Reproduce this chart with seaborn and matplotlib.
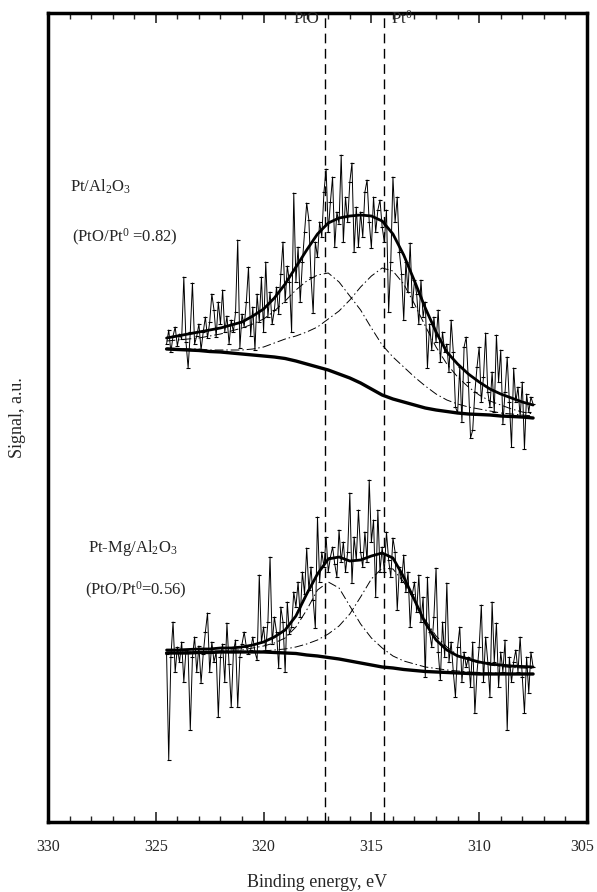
import numpy as np
import pandas as pd
import matplotlib
matplotlib.use("Agg")
import matplotlib.pyplot as plt
import matplotlib.transforms as mtransforms
import seaborn as sns
from matplotlib.ticker import MultipleLocator

sns.set_theme(style="white")
plt.rcParams["font.family"] = ["Liberation Serif", "DejaVu Serif"]
plt.rcParams["mathtext.fontset"] = "custom"
plt.rcParams["mathtext.rm"] = "Liberation Serif"
plt.rcParams["mathtext.it"] = "Liberation Serif:italic"

# Measured Pt 4d spectra, 0.1 eV steps from 324.5 eV down to 307.5 eV
raw_pt_al2o3 = [
    478, 492, 470, 486, 495, 476, 488, 483, 545, 480,
    454, 490, 539, 478, 486, 498, 472, 490, 505, 484,
    500, 528, 512, 485, 520, 498, 532, 490, 506, 478,
    502, 490, 510, 582, 474, 508, 495, 520, 555, 486,
    515, 472, 528, 500, 545, 490, 560, 505, 530, 498,
    512, 535, 508, 548, 580, 520, 556, 540, 490, 629,
    540, 575, 520, 560, 590, 619, 602, 545, 509, 580,
    565, 600, 585, 630, 653, 590, 620, 645, 575, 610,
    598, 667, 580, 625, 600, 640, 659, 570, 615, 575,
    610, 585, 630, 642, 600, 574, 625, 590, 612, 622,
    595, 580, 612, 510, 560, 645, 600, 625, 570, 548,
    502, 560, 530, 579, 515, 542, 528, 498, 542, 505,
    520, 454, 498, 472, 505, 480, 512, 460, 490, 470,
    478, 450, 502, 470, 415, 409, 455, 400, 475, 485,
    440, 384, 392, 430, 455, 475, 420, 445, 489, 430,
    415, 450, 410, 487, 440, 472, 398, 430, 465, 420,
    375, 454, 420, 435, 405, 440, 373, 428, 410, 425,
    418,
]
raw_ptmg_al2o3 = [
    168, 62, 165, 200, 150, 175, 160, 180, 140, 172,
    170, 92, 165, 185, 150, 176, 139, 168, 190, 209,
    150, 180, 160, 170, 105, 165, 178, 140, 199, 158,
    115, 170, 182, 115, 165, 178, 190, 175, 168, 172,
    185, 170, 162, 247, 180, 195, 172, 200, 265, 178,
    205, 190, 154, 215, 200, 150, 220, 188, 195, 230,
    215, 240, 205, 250, 228, 274, 232, 255, 222, 194,
    305, 240, 270, 255, 285, 250, 265, 275, 258, 245,
    292, 260, 280, 250, 270, 329, 239, 285, 262, 312,
    270, 255, 290, 260, 342, 280, 302, 225, 312, 250,
    275, 250, 290, 262, 245, 284, 270, 212, 255, 240,
    267, 230, 250, 195, 228, 240, 210, 247, 200, 225,
    145, 245, 190, 175, 205, 254, 170, 142, 200, 165,
    239, 160, 180, 150, 125, 175, 195, 140, 170, 155,
    165, 135, 180, 109, 150, 175, 217, 140, 185, 160,
    125, 220, 160, 199, 135, 170, 150, 182, 92, 165,
    140, 160, 172, 150, 185, 145, 109, 165, 129, 170,
    155,
]

# Fitted curves, 0.5 eV steps from 324.5 eV down to 307.5 eV
pt_envelope = [484, 486, 488, 490, 492, 494, 497, 500, 506, 513, 524, 538, 555, 572,
               588, 599, 604, 606, 607, 606, 601, 588, 567, 541, 514, 490, 470, 458,
               448, 440, 433, 428, 424, 420, 417]
pt_pto = [481, 482, 483, 484, 486, 488, 491, 494, 498, 503, 511, 521, 532, 541,
          547, 549, 540, 526, 512, 494, 477, 465, 455, 445, 436, 428, 422, 418,
          415, 413, 411, 409, 408, 407, 406]
pt_pt0 = [474, 473.5, 473, 473, 472, 472, 472, 472, 473, 475, 479, 483, 486, 490,
          495, 503, 511, 522, 535, 546, 554, 551, 538, 518, 496, 475, 458, 445,
          435, 427, 421, 417, 413, 410, 408]
pt_background = [473, 472.5, 472, 471.5, 470.5, 470, 469, 468, 467, 466, 465, 463.5,
                 461, 458, 455, 452, 448, 444, 439, 433, 427, 423, 420, 417, 414, 412,
                 410.5, 409, 408, 407.5, 407, 406, 405.5, 405, 404]

ptmg_envelope = [172, 172, 172.5, 173, 173, 174, 174, 175, 177, 180, 185, 192, 206,
                 228, 248, 263, 265, 261, 262, 266, 269, 264, 245, 222, 199, 182, 172,
                 166, 163, 160, 158, 157, 156, 155.5, 155]
ptmg_pto = [170, 170, 170, 170.5, 171, 171, 172, 172, 174, 176, 179, 184, 195, 212,
            232, 240, 234, 216, 198, 184, 174, 166, 161, 158, 155, 153.5, 152, 151,
            150, 149.5, 149, 149, 148.5, 148.5, 148.5]
ptmg_pt0 = [169.5, 169.5, 169.5, 169.5, 170, 170, 170, 170, 170.5, 171, 172, 173,
            175, 178, 182, 188, 196, 208, 225, 243, 254, 253, 240, 221, 202, 186,
            175, 167, 162, 159, 157, 155.5, 154.5, 154, 153.5]
ptmg_background = [169, 169, 169, 169.5, 169.5, 170, 170, 170, 170, 170, 169.5, 169,
                   168.5, 167, 166, 164.5, 163, 161, 159, 157, 155, 154, 152.5, 151.5,
                   150.5, 150, 149.5, 149, 148.5, 148, 148, 148, 148, 148, 148]

energy_ticks = [330, 325, 320, 315, 310, 305]
peak_positions = [317.15, 314.4]
peak_names = ["PtO", "Pt$^0$"]
sample_names = ["Pt/Al$_2$O$_3$", "Pt-Mg/Al$_2$O$_3$"]
ratio_texts = ["(PtO/Pt$^0$ =0.82)", "(PtO/Pt$^0$=0.56)"]

be_raw = np.linspace(324.5, 307.5, len(raw_pt_al2o3))
be_fit = np.linspace(324.5, 307.5, len(pt_envelope))

fig = plt.figure(figsize=(5.97, 8.92), dpi=100)
ax = fig.add_axes([0.0804, 0.0785, 0.9028, 0.9069])

dashdot = (0, (9, 3, 1.5, 3))

def draw_spectrum(raw, pto, pt0, env, bg):
    sns.lineplot(x=be_raw, y=raw, ax=ax, sort=False, estimator=None, color="black",
                 linewidth=0.7, marker="_", markersize=3.5, markeredgewidth=0.8,
                 markeredgecolor="black")
    for comp in (pto, pt0):
        sns.lineplot(x=be_fit, y=comp, ax=ax, sort=False, estimator=None,
                     color="black", linewidth=0.7, linestyle=dashdot)
    sns.lineplot(x=be_fit, y=env, ax=ax, sort=False, estimator=None,
                 color="black", linewidth=2.0)
    sns.lineplot(x=be_fit, y=bg, ax=ax, sort=False, estimator=None,
                 color="black", linewidth=2.4)

draw_spectrum(raw_pt_al2o3, pt_pto, pt_pt0, pt_envelope, pt_background)
draw_spectrum(raw_ptmg_al2o3, ptmg_pto, ptmg_pt0, ptmg_envelope, ptmg_background)

for pos in peak_positions:
    ax.axvline(pos, color="black", linewidth=1.0, linestyle=(0, (7, 4)))

ax.text(peak_positions[0] + 0.25, 803, peak_names[0], ha="right", va="center", fontsize=12)
ax.text(peak_positions[1] - 0.3, 803, peak_names[1], ha="left", va="center", fontsize=12)

ax.text(328.98, 635, sample_names[0], ha="left", va="center", fontsize=12)
ax.text(328.89, 585, ratio_texts[0], ha="left", va="center", fontsize=12)
ax.text(328.14, 274, sample_names[1], ha="left", va="center", fontsize=12)
ax.text(328.28, 232, ratio_texts[1], ha="left", va="center", fontsize=12)

ax.set_xlim(330, 305)
ax.set_ylim(0, 809)
ax.set_xticks(energy_ticks)
ax.set_xticklabels([str(t) for t in energy_ticks])
ax.xaxis.set_minor_locator(MultipleLocator(1))
ax.tick_params(axis="x", which="both", direction="in", top=True, bottom=True,
               labelsize=11.5, pad=12)
ax.tick_params(axis="x", which="major", length=7, width=1.2)
ax.tick_params(axis="x", which="minor", length=4, width=1.0)
ax.set_yticks([])
for sp in ax.spines.values():
    sp.set_linewidth(2.5)
    sp.set_color("black")

# keep the right-most tick label inside the figure
last_label = ax.get_xticklabels()[-1]
last_label.set_transform(last_label.get_transform() +
                         mtransforms.ScaledTranslation(-0.05, 0, fig.dpi_scale_trans))

ax.set_xlabel("Binding energy, eV", fontsize=13, labelpad=14)
ax.set_ylabel("Signal, a.u.", fontsize=13, labelpad=16)

fig.savefig("out.png", dpi=100, facecolor="white")
